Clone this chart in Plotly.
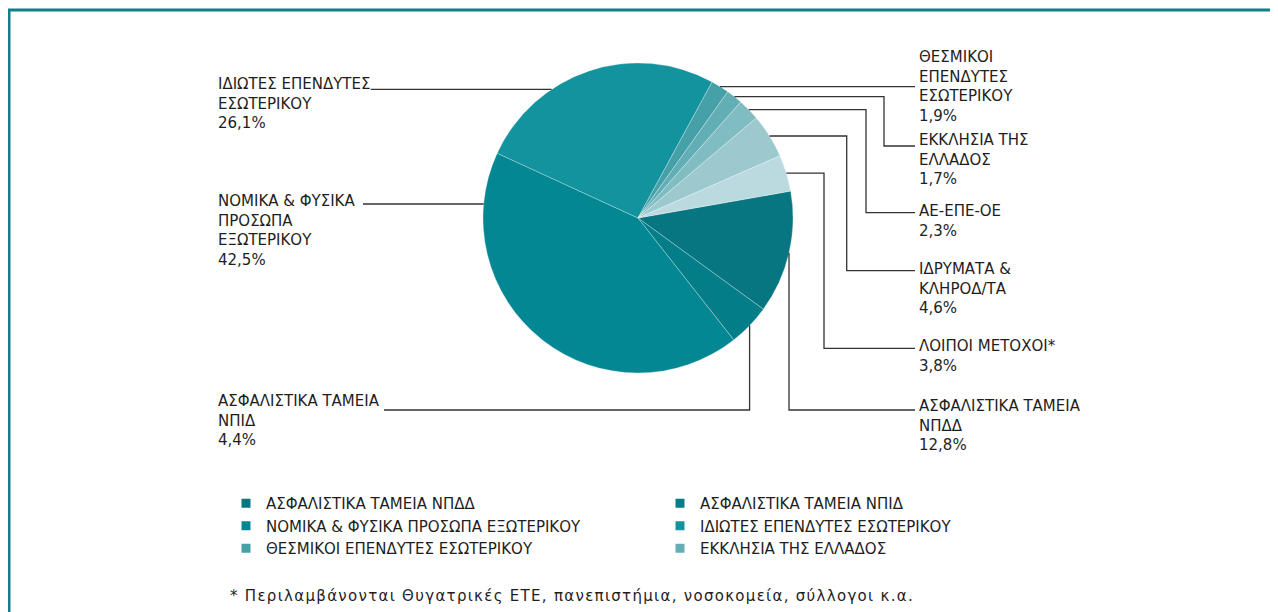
import math
import plotly.graph_objects as go

# ---------------- data ----------------
labels = [
    "ΑΣΦΑΛΙΣΤΙΚΑ ΤΑΜΕΙΑ ΝΠΔΔ",
    "ΑΣΦΑΛΙΣΤΙΚΑ ΤΑΜΕΙΑ ΝΠΙΔ",
    "ΝΟΜΙΚΑ & ΦΥΣΙΚΑ ΠΡΟΣΩΠΑ ΕΞΩΤΕΡΙΚΟΥ",
    "ΙΔΙΩΤΕΣ ΕΠΕΝΔΥΤΕΣ ΕΣΩΤΕΡΙΚΟΥ",
    "ΘΕΣΜΙΚΟΙ ΕΠΕΝΔΥΤΕΣ ΕΣΩΤΕΡΙΚΟΥ",
    "ΕΚΚΛΗΣΙΑ ΤΗΣ ΕΛΛΑΔΟΣ",
    "ΑΕ-ΕΠΕ-ΟΕ",
    "ΙΔΡΥΜΑΤΑ & ΚΛΗΡΟΔ/ΤΑ",
    "ΛΟΙΠΟΙ ΜΕΤΟΧΟΙ*",
]
values = [12.8, 4.4, 42.5, 26.1, 1.9, 1.7, 2.3, 4.6, 3.8]
callout_names = [
    "ΑΣΦΑΛΙΣΤΙΚΑ ΤΑΜΕΙΑ<br>ΝΠΔΔ",
    "ΑΣΦΑΛΙΣΤΙΚΑ ΤΑΜΕΙΑ<br>ΝΠΙΔ",
    "ΝΟΜΙΚΑ & ΦΥΣΙΚΑ<br>ΠΡΟΣΩΠΑ<br>ΕΞΩΤΕΡΙΚΟΥ",
    "ΙΔΙΩΤΕΣ ΕΠΕΝΔΥΤΕΣ<br>ΕΣΩΤΕΡΙΚΟΥ",
    "ΘΕΣΜΙΚΟΙ<br>ΕΠΕΝΔΥΤΕΣ<br>ΕΣΩΤΕΡΙΚΟΥ",
    "ΕΚΚΛΗΣΙΑ ΤΗΣ<br>ΕΛΛΑΔΟΣ",
    "ΑΕ-ΕΠΕ-ΟΕ",
    "ΙΔΡΥΜΑΤΑ &<br>ΚΛΗΡΟΔ/ΤΑ",
    "ΛΟΙΠΟΙ ΜΕΤΟΧΟΙ*",
]
legend_count = 6
footnote = "* Περιλαμβάνονται Θυγατρικές ΕΤΕ, πανεπιστήμια, νοσοκομεία, σύλλογοι κ.α."

# ---------------- style ----------------
colors = ["#077680", "#037E89", "#038893", "#12939E", "#45A0A8",
          "#62AEB5", "#80BDC3", "#9CC9CE", "#BBDAE0"]
FONT = "DejaVu Sans"
TXT = "#1e1e1e"
LINE = "#333333"
W, H = 1278, 612
OFF = 8            # page body margin: screen px -> figure px
CX, CY, R = 638, 218, 155   # screen px
ROT = 80
TEXT_R_X = 917
TEXT_L_X = 216
CAP = 5.5          # annotation top -> cap top offset


def px(x):
    return (x - OFF) / W


def py(y):
    return 1 - (y - OFF) / H


def fmt(v):
    return f"{v:.1f}".replace(".", ",") + "%"


# mid-angle anchor on the rim for each slice (clockwise from 12 o'clock)
total = sum(values)
anchors = []
cum = 0.0
for v in values:
    mid = math.radians(ROT + (cum + v / 2) / total * 360)
    anchors.append((CX + R * math.sin(mid), CY - R * math.cos(mid)))
    cum += v


def rim_x(y, side):
    d = math.sqrt(max(R * R - (y - CY) ** 2, 0))
    return CX + d if side > 0 else CX - d


fig = go.Figure()
fig.add_trace(go.Pie(
    labels=labels, values=values, sort=False, direction="clockwise",
    rotation=ROT, textinfo="none", showlegend=False,
    marker=dict(colors=colors, line=dict(color="rgba(255,255,255,0.35)", width=0.8)),
    domain=dict(x=[px(CX - R), px(CX + R)], y=[py(CY + R), py(CY - R)]),
    hovertemplate="%{label}: %{value}%<extra></extra>",
))

# legend entries (first six categories, two columns)
for i in range(legend_count):
    fig.add_trace(go.Scatter(
        x=[None], y=[None], mode="markers", name=labels[i],
        marker=dict(symbol="square", size=9, color=colors[i]),
        legend="legend" if i % 2 == 0 else "legend2",
    ))

shapes = []
texts = []   # (slice index, x, cap top y)


def path(points):
    d = "M " + " L ".join(f"{px(x):.5f},{py(y):.5f}" for x, y in points)
    return dict(type="path", path=d, xref="paper", yref="paper",
                line=dict(color=LINE, width=1.3))


# right side callouts: elbow x, line end y, text cap top
right_cfg = {
    4: (None, None, 51.7),
    5: (884, 146, 135),
    6: (866, 212.7, 205),
    7: (846.7, 270.7, 263.3),
    8: (824, 348.3, 340),
}
for i, (ex, ey, top) in right_cfg.items():
    ax, ay = anchors[i]
    if ex is None:
        pts = [(ax, ay), (TEXT_R_X - 2, ay)]
    else:
        pts = [(ax, ay), (ex, ay), (ex, ey), (TEXT_R_X - 2, ey)]
    shapes.append(path(pts))
    texts.append((i, TEXT_R_X, top))

# NPDD: vertical down then right
ax, ay = anchors[0]
shapes.append(path([(ax, ay), (ax, 410), (TEXT_R_X - 2, 410)]))
texts.append((0, TEXT_R_X, 400.7))
# NPID: vertical down then left
ax, ay = anchors[1]
shapes.append(path([(ax, ay), (ax, 410), (384, 410)]))
texts.append((1, TEXT_L_X, 395))
# left side horizontal lines
for i, ly, lx, top in [(3, 89.3, 370.7, 78.3), (2, 204, 363, 195)]:
    shapes.append(path([(rim_x(ly, -1), ly), (lx, ly)]))
    texts.append((i, TEXT_L_X, top))

ann = []
for i, x, top in texts:
    ann.append(dict(
        x=px(x), y=py(top - CAP), xref="paper", yref="paper",
        xanchor="left", yanchor="top", align="left", showarrow=False,
        text=callout_names[i] + "<br>" + fmt(values[i]),
        font=dict(family=FONT, size=15, color=TXT),
    ))

ann.append(dict(
    x=px(228), y=py(590 - CAP), xref="paper", yref="paper", xanchor="left", yanchor="top",
    showarrow=False,
    text="<span style='letter-spacing:1.3px'>" + footnote + "</span>",
    font=dict(family=FONT, size=15, color=TXT),
))

# frame
shapes.append(dict(type="line", xref="paper", yref="paper", x0=px(8), x1=1.0,
                   y0=py(10), y1=py(10), line=dict(color="#127E88", width=3)))
shapes.append(dict(type="line", xref="paper", yref="paper", x0=px(9), x1=px(9),
                   y0=py(9), y1=0, line=dict(color="#127E88", width=3)))

fig.update_layout(
    width=W, height=H, margin=dict(l=0, r=0, t=0, b=0),
    paper_bgcolor="white", plot_bgcolor="white",
    xaxis=dict(visible=False), yaxis=dict(visible=False),
    shapes=shapes, annotations=ann,
    legend=dict(x=px(226), y=py(487), xanchor="left", yanchor="top",
                font=dict(family=FONT, size=15, color=TXT), bgcolor="rgba(0,0,0,0)"),
    legend2=dict(x=px(660), y=py(487), xanchor="left", yanchor="top",
                 font=dict(family=FONT, size=15, color=TXT), bgcolor="rgba(0,0,0,0)"),
    font=dict(family=FONT, color=TXT),
)

fig.write_html("out.html")
